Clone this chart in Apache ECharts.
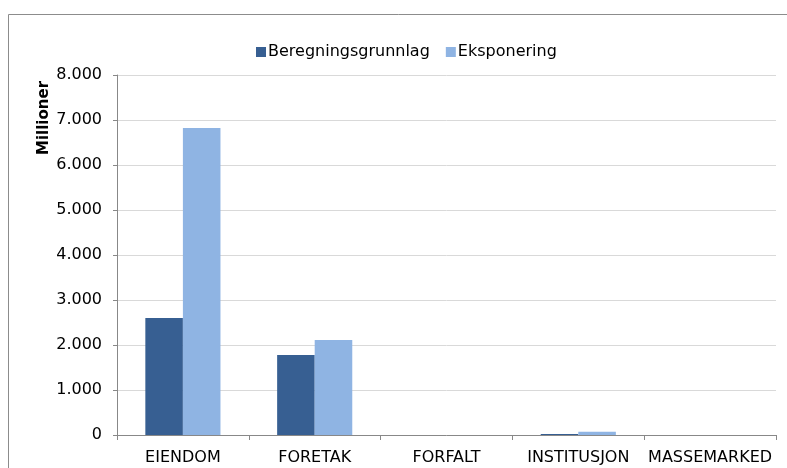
<!DOCTYPE html>
<html>
<head>
<meta charset="utf-8">
<script src="https://cdn.jsdelivr.net/npm/echarts@6/dist/echarts.min.js"></script>
<style>
html, body { margin: 0; padding: 0; background: #fff; }
#chart { width: 787px; height: 468px; }
</style>
</head>
<body>
<div id="chart"></div>
<script>
var categories = ['EIENDOM', 'FORETAK', 'FORFALT', 'INSTITUSJON', 'MASSEMARKED'];
var beregningsgrunnlag = [2600, 1780, 0, 25, 0];
var eksponering = [6820, 2110, 0, 70, 0];
var yTicks = [0, 1000, 2000, 3000, 4000, 5000, 6000, 7000, 8000];

var font = 'Verdana, "DejaVu Sans", sans-serif';

function fmt(v) {
    return String(v).replace(/\B(?=(\d{3})+(?!\d))/g, '.');
}

var myChart = echarts.init(document.getElementById('chart'));
myChart.setOption({
    animation: false,
    textStyle: { fontFamily: font },
    graphic: [{
        type: 'rect',
        shape: { x: 8.5, y: 14.5, width: 800, height: 500 },
        style: { fill: 'none', stroke: '#8c8c8c', lineWidth: 1 },
        z: -1
    }, {
        type: 'text',
        x: 44,
        y: 118,
        rotation: Math.PI / 2,
        style: {
            text: 'Millioner',
            font: 'bold 15px ' + font,
            fill: '#000',
            align: 'center',
            verticalAlign: 'middle'
        }
    }],
    legend: {
        top: 39,
        left: 251,
        itemWidth: 10,
        itemHeight: 10,
        itemGap: 16,
        icon: 'rect',
        textStyle: { fontSize: 16, color: '#000', padding: [0, 0, 0, -3] },
        data: ['Beregningsgrunnlag', 'Eksponering']
    },
    grid: {
        left: 117,
        right: 11,
        top: 75,
        bottom: 33
    },
    xAxis: {
        type: 'category',
        data: categories,
        axisLine: { lineStyle: { color: '#888' } },
        axisTick: { show: true, length: 5, lineStyle: { color: '#888' } },
        axisLabel: { color: '#000', fontSize: 16, margin: 15, interval: 0 },
        splitLine: { show: false }
    },
    yAxis: {
        type: 'value',
        min: yTicks[0],
        max: yTicks[yTicks.length - 1],
        interval: 1000,
        axisLine: { show: true, lineStyle: { color: '#888' } },
        axisTick: { show: true, length: 4, lineStyle: { color: '#888' } },
        axisLabel: { color: '#000', fontSize: 16, margin: 15, formatter: fmt },
        splitLine: { lineStyle: { color: '#d9d9d9' } }
    },
    series: [{
        name: 'Beregningsgrunnlag',
        type: 'bar',
        data: beregningsgrunnlag,
        barGap: '0%',
        barCategoryGap: '43%',
        itemStyle: { color: '#375F92' }
    }, {
        name: 'Eksponering',
        type: 'bar',
        data: eksponering,
        itemStyle: { color: '#8FB4E3' }
    }]
});
</script>
</body>
</html>
